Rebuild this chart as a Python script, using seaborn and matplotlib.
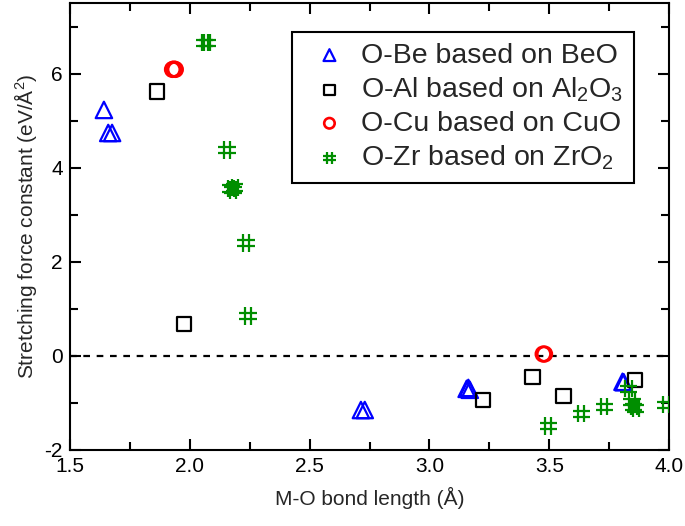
import matplotlib
matplotlib.use("Agg")
import matplotlib.pyplot as plt
from matplotlib.path import Path
import seaborn as sns

# O-Be based on BeO
be_x = [1.642, 1.660, 1.676, 2.714, 2.730, 3.155, 3.162, 3.168, 3.805, 3.810]
be_y = [5.23, 4.74, 4.74, -1.15, -1.15, -0.70, -0.68, -0.72, -0.55, -0.56]
# O-Al based on Al2O3
al_x = [1.863, 1.976, 3.224, 3.430, 3.558, 3.858]
al_y = [5.62, 0.68, -0.94, -0.45, -0.85, -0.51]
# O-Cu based on CuO
cu_x = [1.928, 1.934, 1.940, 3.474, 3.480]
cu_y = [6.09, 6.10, 6.09, 0.04, 0.04]
# O-Zr based on ZrO2
zr_x = [2.063, 2.073, 2.155, 2.172, 2.180, 2.188, 2.235, 2.243, 3.495, 3.633,
        3.729, 3.830, 3.845, 3.852, 3.860, 3.987]
zr_y = [6.66, 6.66, 4.38, 3.56, 3.53, 3.58, 2.40, 0.85, -1.49, -1.23,
        -1.08, -0.70, -0.98, -1.08, -1.12, -1.04]

labels = ["O-Be based on BeO", "O-Al based on Al$_2$O$_3$",
          "O-Cu based on CuO", "O-Zr based on ZrO$_2$"]

sns.set_theme(style="ticks")
plt.rcParams["font.family"] = ["Liberation Sans", "DejaVu Sans"]
plt.rcParams["mathtext.fontset"] = "custom"
plt.rcParams["mathtext.rm"] = "Liberation Sans"
plt.rcParams["mathtext.it"] = "Liberation Sans"
plt.rcParams["axes.unicode_minus"] = False

# upright hash marker made of four strokes
a = 0.36
hash_path = Path(
    [(-a, -1), (-a, 1), (a, -1), (a, 1), (-1, -a), (1, -a), (-1, a), (1, a)],
    [Path.MOVETO, Path.LINETO] * 4,
)

fig = plt.figure(figsize=(6.85, 5.26), dpi=100)
ax = fig.add_axes([0.102, 0.1445, 0.875, 0.8495])

ax.axhline(0, color="black", linestyle=(0, (3, 3)), linewidth=1.6, zorder=1)

sns.scatterplot(x=be_x, y=be_y, ax=ax, marker="^", s=140, color="#0000FF",
                facecolor="none", edgecolor="#0000FF", linewidth=1.6,
                label=labels[0], zorder=3)
sns.scatterplot(x=al_x, y=al_y, ax=ax, marker="s", s=110, color="black",
                facecolor="none", edgecolor="black", linewidth=1.6,
                label=labels[1], zorder=3)
sns.scatterplot(x=cu_x, y=cu_y, ax=ax, marker="o", s=110, color="#FF0000",
                facecolor="none", edgecolor="#FF0000", linewidth=1.9,
                label=labels[2], zorder=3)
sns.scatterplot(x=zr_x, y=zr_y, ax=ax, marker=hash_path, s=155, color="#008E00",
                facecolor="none", edgecolor="#008E00", linewidth=1.6,
                label=labels[3], zorder=3)

ax.set_xlim(1.5, 4.0)
ax.set_ylim(-2, 7.5)
ax.set_xticks([1.5, 2.0, 2.5, 3.0, 3.5, 4.0])
ax.set_xticklabels(["1.5", "2.0", "2.5", "3.0", "3.5", "4.0"])
ax.set_xticks([1.75, 2.25, 2.75, 3.25, 3.75], minor=True)
ax.set_yticks([-2, 0, 2, 4, 6])
ax.set_yticks([-1, 1, 3, 5, 7], minor=True)

ax.tick_params(which="both", direction="in", top=True, right=True,
               labelsize=15, width=1.5, colors="black", pad=5)
ax.tick_params(which="major", length=8)
ax.tick_params(which="minor", length=6)
for sp in ax.spines.values():
    sp.set_linewidth(1.5)
    sp.set_color("black")
    sp.set_visible(True)

ax.set_xlabel("M-O bond length (Å)", fontsize=15, labelpad=8)
ax.set_ylabel("Stretching force constant (eV/Å$^2$)", fontsize=15, labelpad=4)

leg = ax.legend(loc="upper right", bbox_to_anchor=(0.942, 0.936), fontsize=20.5,
                frameon=True, fancybox=False, edgecolor="black",
                markerscale=0.72, handletextpad=0.2, borderpad=0.38,
                labelspacing=0.24, handlelength=1.85, borderaxespad=0)
leg.get_frame().set_linewidth(1.5)
leg.get_frame().set_alpha(1)

fig.savefig("out.png", dpi=100)
